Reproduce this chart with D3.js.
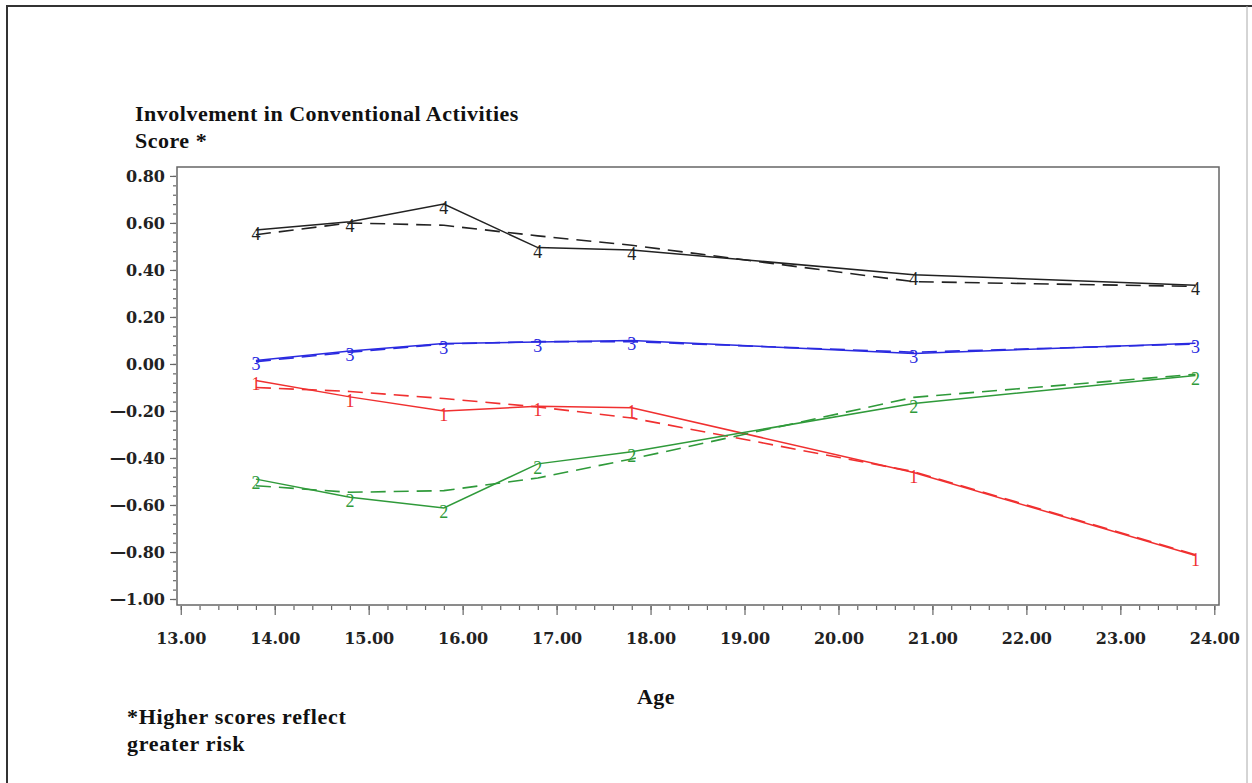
<!DOCTYPE html>
<html>
<head>
<meta charset="utf-8">
<script src="https://cdn.jsdelivr.net/npm/d3@7"></script>
<style>
	body { margin: 0; background: #fff; }
	#chart { width: 1252px; height: 783px; }
	.tick_label { font-family: "DejaVu Serif", serif; font-weight: bold; font-size: 16px; fill: #222; }
	.caption { font-family: "Liberation Serif", serif; font-weight: bold; font-size: 22px; letter-spacing: 0.5px; fill: #111; }
	.marker { font-family: "Liberation Serif", serif; font-size: 18px; text-anchor: middle; }
</style>
</head>
<body>
<div id="chart"></div>
<script>

//mean age at each wave
var ages = [13.8, 14.8, 15.8, 16.8, 17.8, 20.8, 23.8];

//group 4 (black)
var observed4  = [0.570, 0.605, 0.680, 0.495, 0.485, 0.380, 0.335];
var predicted4 = [0.550, 0.600, 0.590, 0.545, 0.505, 0.350, 0.330];

//group 3 (blue)
var observed3  = [0.015, 0.055, 0.087, 0.093, 0.100, 0.045, 0.088];
var predicted3 = [0.010, 0.050, 0.085, 0.095, 0.095, 0.050, 0.085];

//group 1 (red)
var observed1  = [-0.070, -0.140, -0.200, -0.180, -0.186, -0.462, -0.815];
var predicted1 = [-0.100, -0.117, -0.147, -0.183, -0.230, -0.458, -0.812];

//group 2 (green)
var observed2  = [-0.490, -0.567, -0.613, -0.425, -0.373, -0.168, -0.049];
var predicted2 = [-0.518, -0.546, -0.539, -0.485, -0.404, -0.142, -0.044];

var groups = ["4", "3", "1", "2"];
var group_colors = {"4": "#222222", "3": "#2a2ae0", "1": "#f03030", "2": "#2f9a3a"};
var group_observed = {"4": observed4, "3": observed3, "1": observed1, "2": observed2};
var group_predicted = {"4": predicted4, "3": predicted3, "1": predicted1, "2": predicted2};

var x_ticks = d3.range(13, 25, 1);
var y_ticks = d3.range(-1.0, 0.81, 0.2);

var title_lines = ["Involvement in Conventional Activities", "Score *"];
var footnote_lines = ["*Higher scores reflect", "greater risk"];
var x_title = "Age";


function Chart(frame_id)
{
	var self = this;

	self.svg = d3.select("#" + frame_id)
		.append("svg")
			.attr("width", 1252)
			.attr("height", 783);

	//plot frame in pixels
	self.box = {left: 177, right: 1219, top: 167, bottom: 605};

	self.x = d3.scaleLinear()
		.domain([12.96, 24.05])
		.range([self.box.left, self.box.right]);

	self.y = d3.scaleLinear()
		.domain([-1.0255, 0.838])
		.range([self.box.bottom, self.box.top]);

	self.drawPage();
	self.drawAxes();
	self.drawSeries();
}

Chart.prototype.drawPage = function()
{
	var self = this;

	//the outer border of the page
	self.svg.append("path")
		.attr("d", "M7,783 V6 H1252")
		.attr("fill", "none")
		.attr("stroke", "#333")
		.attr("stroke-width", 2);

	self.svg.append("line")
		.attr("x1", 1247).attr("x2", 1247)
		.attr("y1", 6).attr("y2", 783)
		.attr("stroke", "#aaa")
		.attr("stroke-width", 1);

	self.svg.selectAll(".title")
		.data(title_lines)
		.enter()
			.append("text")
				.attr("class", "caption title")
				.attr("x", 135)
				.attr("y", function(d, i){ return 121 + i * 27; })
				.text(function(d){ return d; });

	self.svg.selectAll(".footnote")
		.data(footnote_lines)
		.enter()
			.append("text")
				.attr("class", "caption footnote")
				.attr("x", 127)
				.attr("y", function(d, i){ return 724 + i * 27; })
				.style("letter-spacing", "0.7px")
				.text(function(d){ return d; });

	self.svg.append("text")
		.attr("class", "caption")
		.attr("x", 656)
		.attr("y", 704)
		.attr("text-anchor", "middle")
		.text(x_title);
};

Chart.prototype.drawAxes = function()
{
	var self = this;

	self.svg.append("rect")
		.attr("x", self.box.left)
		.attr("y", self.box.top)
		.attr("width", self.box.right - self.box.left)
		.attr("height", self.box.bottom - self.box.top)
		.attr("fill", "none")
		.attr("stroke", "#666")
		.attr("stroke-width", 1.5);

	//minor ticks first, major ticks and labels drawn by d3.axis on top
	var x_minor = d3.axisBottom(self.x)
		.tickValues(d3.range(13, 24.01, 0.2))
		.tickSize(4)
		.tickFormat("");

	var y_minor = d3.axisLeft(self.y)
		.tickValues(d3.range(-1.0, 0.801, 0.04))
		.tickSize(3)
		.tickFormat("");

	var x_axis = d3.axisBottom(self.x)
		.tickValues(x_ticks)
		.tickSize(9)
		.tickPadding(18)
		.tickFormat(d3.format(".2f"));

	var y_axis = d3.axisLeft(self.y)
		.tickValues(y_ticks)
		.tickSize(6)
		.tickPadding(5)
		.tickFormat(function(d)
			{
				var s = d3.format(".2f")(Math.abs(d));
				return d < -0.001 ? "\u2014" + s : s;
			}
		);

	[x_minor, x_axis].forEach(function(axis)
		{
			self.svg.append("g")
				.attr("transform", "translate(0," + (self.box.bottom + 1) + ")")
				.call(axis);
		}
	);

	[y_minor, y_axis].forEach(function(axis)
		{
			self.svg.append("g")
				.attr("transform", "translate(" + (self.box.left - 1) + ",0)")
				.call(axis);
		}
	);

	self.svg.selectAll(".domain").remove();
	self.svg.selectAll(".tick line").attr("stroke", "#666").attr("stroke-width", 1.2);
	self.svg.selectAll(".tick text")
		.attr("class", "tick_label")
		.attr("font-family", null)
		.attr("font-size", null)
		.attr("fill", null);
};

Chart.prototype.drawSeries = function()
{
	var self = this;

	var line = d3.line()
		.x(function(d){ return self.x(d[0]); })
		.y(function(d){ return self.y(d[1]); });

	groups.forEach(function(g)
		{
			var color = group_colors[g];
			var observed = d3.zip(ages, group_observed[g]);
			var predicted = d3.zip(ages, group_predicted[g]);

			self.svg.append("path")
				.datum(predicted)
				.attr("d", line)
				.attr("fill", "none")
				.attr("stroke", color)
				.attr("stroke-width", 1.6)
				.attr("stroke-dasharray", "15,8");

			self.svg.append("path")
				.datum(observed)
				.attr("d", line)
				.attr("fill", "none")
				.attr("stroke", color)
				.attr("stroke-width", 1.5);

			//the group number is used as the plot symbol
			self.svg.selectAll(".marker_" + g)
				.data(observed)
				.enter()
					.append("text")
						.attr("class", "marker marker_" + g)
						.attr("x", function(d){ return self.x(d[0]); })
						.attr("y", function(d){ return self.y(d[1]) + 10; })
						.attr("fill", color)
						.text(g);
		}
	);
};

chart_1 = new Chart("chart");

</script>
</body>
</html>
